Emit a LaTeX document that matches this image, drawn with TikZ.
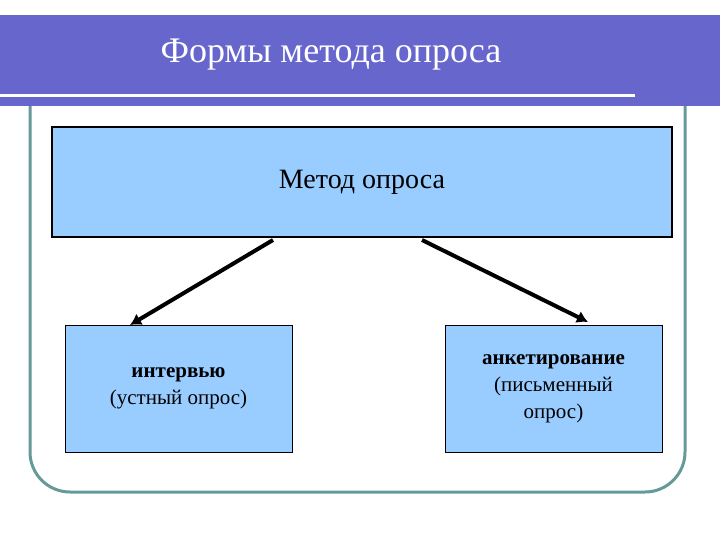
\documentclass[tikz,border=0pt]{standalone}
\usepackage{fontspec}
\setmainfont{Liberation Serif}
\usetikzlibrary{arrows.meta}
\definecolor{bar}{HTML}{6666CC}
\definecolor{frame}{HTML}{669999}
\definecolor{boxc}{HTML}{99CCFF}
\begin{document}
\begin{tikzpicture}[x=1pt,y=-1pt,
  sbox/.style={draw=black,fill=boxc,line width=0.8pt,minimum width=227pt,minimum height=127pt,align=center,inner sep=0pt,font=\fontsize{21}{27}\selectfont},
  arr/.style={line width=4pt,-{Latex[length=11pt,width=13pt]}}]
\useasboundingbox (0,0) rectangle (720,540);
\fill[white] (0,0) rectangle (720,540);
\draw[frame,line width=3pt,rounded corners=40pt] (30,100) -- (30,492) -- (685,492) -- (685,100);
\fill[bar] (0,15) rectangle (720,106);
\draw[white,line width=3pt] (0,96) -- (635,96);
\node[white,font=\fontsize{36}{40}\selectfont] (title) at (331,55) {Формы метода опроса};
\node[draw=black,fill=boxc,line width=2.5pt,minimum width=620pt,minimum height=110pt,inner sep=0pt,font=\fontsize{28}{32}\selectfont] (top) at (362,182) {Метод опроса};
\node[sbox] (l) at (178.5,388.5) {\textbf{интервью}\\(устный опрос)};
\node[sbox,minimum width=217pt] (r) at (553.5,388.5) {\textbf{анкетирование}\\(письменный\\опрос)};
\coordinate (la) at (273,240);
\coordinate (ra) at (422,240);
\draw[arr] (la) -- (130,325);
\draw[arr] (ra) -- (588,322);
\end{tikzpicture}
\end{document}
